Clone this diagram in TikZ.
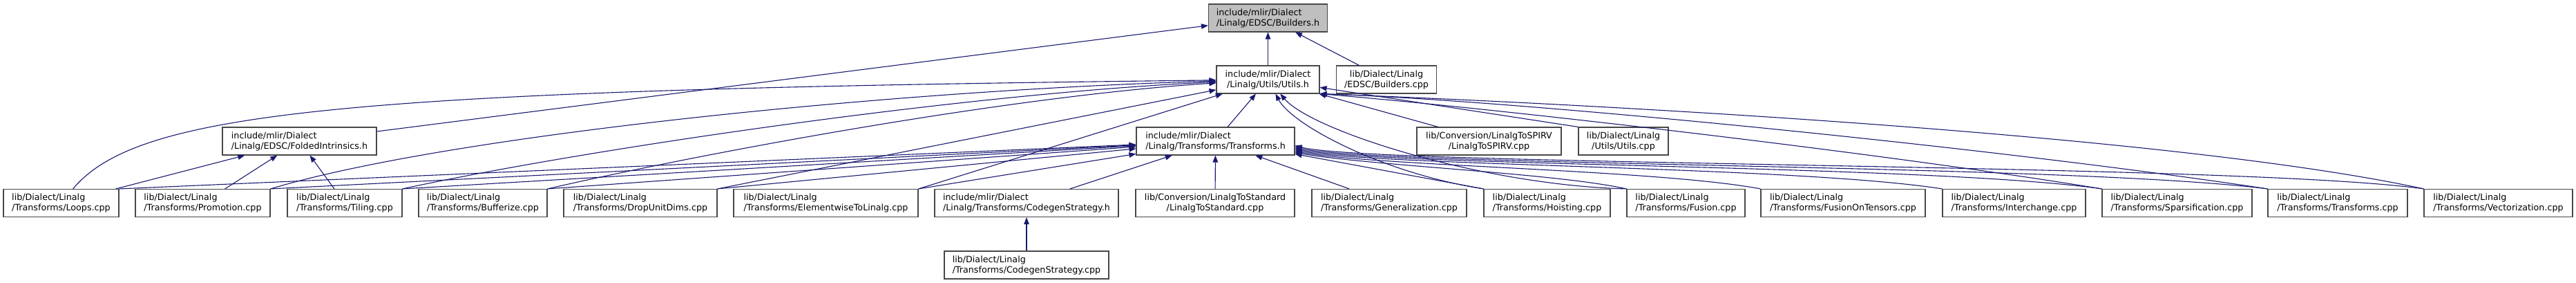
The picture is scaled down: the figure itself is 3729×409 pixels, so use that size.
\documentclass[tikz,border=0pt]{standalone}
\usepackage{fontspec}
\setmainfont{DejaVu Sans}
\usepackage{tikz}
\usetikzlibrary{arrows.meta}
\definecolor{edgeblue}{RGB}{25,25,112}
\definecolor{boxline}{RGB}{72,72,72}
\definecolor{curgray}{RGB}{191,191,191}

\begin{document}
\begin{tikzpicture}[x=1pt, y=-1pt,
  box/.style={draw=boxline, line width=1.1pt, fill=white, minimum height=40pt,
              inner sep=0pt, align=left, font=\fontsize{12.7}{15}\selectfont},
  ctr/.style={box, align=center},
  cur/.style={box, fill=curgray},
  dep/.style={-{Triangle[length=10pt,width=7.5pt]}, edgeblue, line width=1.1pt},
]
\useasboundingbox (0,0) rectangle (3729,409);

% headers
\node[cur, minimum width=172] (bldh) at (1835.5,26) {include/mlir/Dialect\\/Linalg/EDSC/Builders.h};
\node[ctr, minimum width=149] (utlh) at (1835.5,115) {include/mlir/Dialect\\/Linalg/Utils/Utils.h};
\node[ctr, minimum width=145] (bldc) at (2007,115) {lib/Dialect/Linalg\\/EDSC/Builders.cpp};
\node[box, minimum width=223] (fldh) at (433.5,204) {include/mlir/Dialect\\/Linalg/EDSC/FoldedIntrinsics.h};
\node[box, minimum width=229] (trfh) at (1759.5,204) {include/mlir/Dialect\\/Linalg/Transforms/Transforms.h};
\node[ctr, minimum width=209] (spirv) at (2155.5,204) {lib/Conversion/LinalgToSPIRV\\/LinalgToSPIRV.cpp};
\node[ctr, minimum width=130] (utlc) at (2350,204) {lib/Dialect/Linalg\\/Utils/Utils.cpp};

% sources
\node[box, minimum width=167] (loops) at (88.5,293.5) {lib/Dialect/Linalg\\/Transforms/Loops.cpp};
\node[box, minimum width=195] (promo) at (293.5,293.5) {lib/Dialect/Linalg\\/Transforms/Promotion.cpp};
\node[box, minimum width=166] (tiling) at (499,293.5) {lib/Dialect/Linalg\\/Transforms/Tiling.cpp};
\node[box, minimum width=186] (bufz) at (699,293.5) {lib/Dialect/Linalg\\/Transforms/Bufferize.cpp};
\node[box, minimum width=222] (drop) at (927,293.5) {lib/Dialect/Linalg\\/Transforms/DropUnitDims.cpp};
\node[box, minimum width=267] (elwise) at (1195.5,293.5) {lib/Dialect/Linalg\\/Transforms/ElementwiseToLinalg.cpp};
\node[box, minimum width=266] (cgsh) at (1486,293.5) {include/mlir/Dialect\\/Linalg/Transforms/CodegenStrategy.h};
\node[ctr, minimum width=230] (lstd) at (1759,293.5) {lib/Conversion/LinalgToStandard\\/LinalgToStandard.cpp};
\node[box, minimum width=224] (gener) at (2011,293.5) {lib/Dialect/Linalg\\/Transforms/Generalization.cpp};
\node[box, minimum width=183] (hoist) at (2239.5,293.5) {lib/Dialect/Linalg\\/Transforms/Hoisting.cpp};
\node[box, minimum width=171] (fusion) at (2440.5,293.5) {lib/Dialect/Linalg\\/Transforms/Fusion.cpp};
\node[box, minimum width=238] (fot) at (2668,293.5) {lib/Dialect/Linalg\\/Transforms/FusionOnTensors.cpp};
\node[box, minimum width=207] (inter) at (2915.5,293.5) {lib/Dialect/Linalg\\/Transforms/Interchange.cpp};
\node[box, minimum width=217] (spars) at (3151.5,293.5) {lib/Dialect/Linalg\\/Transforms/Sparsification.cpp};
\node[box, minimum width=202] (trfc) at (3384,293.5) {lib/Dialect/Linalg\\/Transforms/Transforms.cpp};
\node[box, minimum width=215] (vect) at (3616.5,293.5) {lib/Dialect/Linalg\\/Transforms/Vectorization.cpp};
\node[box, minimum width=238] (cgsc) at (1486,383) {lib/Dialect/Linalg\\/Transforms/CodegenStrategy.cpp};

% into Builders.h
\draw[dep] (utlh) -- (bldh);
\draw[dep] (bldc) -- (bldh);
\draw[dep] (fldh) -- (bldh);

% into Utils.h
\draw[dep] (loops) .. controls (200,160) and (500,130) .. (utlh);
\draw[dep] (promo.north east) .. controls (650,195) and (1300,130) .. (utlh);
\draw[dep] (tiling.north east) .. controls (850,215) and (1400,135) .. (utlh);
\draw[dep] (bufz.north east) .. controls (1000,225) and (1450,140) .. (utlh);
\draw[dep] (drop.north east) -- (utlh);
\draw[dep] (elwise.north east) -- (utlh);
\draw[dep] (trfh) -- (utlh);
\draw[dep] (hoist.north west) .. controls (2000,250) and (1870,180) .. (utlh);
\draw[dep] (fusion.north west) .. controls (2150,268) and (1900,190) .. (utlh);
\draw[dep] (spirv) -- (utlh);
\draw[dep] (utlc.north west) -- (utlh);
\draw[dep] (spars.north west) .. controls (2750,225) and (2200,160) .. (utlh.south east);
\draw[dep] (trfc.north west) .. controls (2900,215) and (2200,145) .. (utlh.south east);
\draw[dep] (vect.north west) .. controls (3150,195) and (2300,150) .. (utlh.south east);

% into Transforms.h
\draw[dep] (loops.north east) -- (trfh);
\draw[dep] (promo.north east) -- (trfh);
\draw[dep] (tiling.north east) -- (trfh);
\draw[dep] (bufz.north east) -- (trfh);
\draw[dep] (drop.north east) -- (trfh);
\draw[dep] (elwise.north east) -- (trfh);
\draw[dep] (cgsh) -- (trfh);
\draw[dep] (lstd) -- (trfh);
\draw[dep] (gener) -- (trfh);
\draw[dep] (hoist.north west) -- ([yshift=2pt]trfh.south east);
\draw[dep] (fusion.north west) .. controls (2250,250) and (1990,240) .. ([yshift=4pt]trfh.south east);
\draw[dep] (fot.north west) .. controls (2400,245) and (1990,240) .. ([yshift=6pt]trfh.south east);
\draw[dep] (inter.north west) .. controls (2600,240) and (1990,240) .. ([yshift=8pt]trfh.south east);
\draw[dep] (spars.north west) .. controls (2800,238) and (1990,240) .. ([yshift=10pt]trfh.south east);
\draw[dep] (trfc.north west) .. controls (3000,237) and (1990,240) .. ([yshift=12pt]trfh.south east);
\draw[dep] (vect.north west) .. controls (3250,236) and (1990,240) .. ([yshift=14pt]trfh.south east);

% into FoldedIntrinsics.h and CodegenStrategy.h
\draw[dep] (loops) -- (fldh);
\draw[dep] (promo) -- (fldh);
\draw[dep] (tiling) -- (fldh);
\draw[dep] (cgsc) -- (cgsh);
\end{tikzpicture}
\end{document}
